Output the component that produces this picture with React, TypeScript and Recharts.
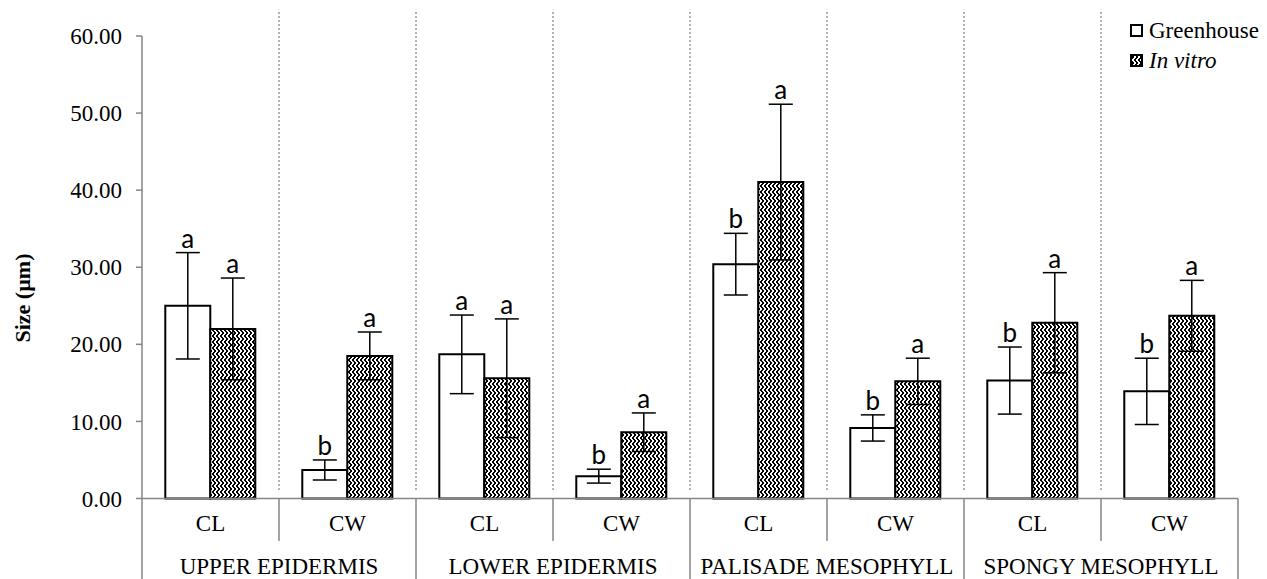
import React from 'react';
import {
  BarChart,
  Bar,
  XAxis,
  YAxis,
  ErrorBar,
  LabelList,
  Legend,
  ReferenceLine,
} from 'recharts';

// leaf anatomy: cell length (CL) / cell width (CW) per tissue
const categories = ['CL', 'CW', 'CL', 'CW', 'CL', 'CW', 'CL', 'CW'];
const groups = ['UPPER EPIDERMIS', 'LOWER EPIDERMIS', 'PALISADE MESOPHYLL', 'SPONGY MESOPHYLL'];

const greenhouse = [25.0, 3.7, 18.7, 2.9, 30.4, 9.15, 15.3, 13.9];
const greenhouseErr = [6.9, 1.3, 5.1, 0.9, 4.0, 1.7, 4.35, 4.3];
const greenhouseLetters = ['a', 'b', 'a', 'b', 'b', 'b', 'b', 'b'];

const inVitro = [22.0, 18.5, 15.6, 8.6, 41.05, 15.2, 22.8, 23.7];
const inVitroErr = [6.6, 3.1, 7.7, 2.5, 10.1, 3.0, 6.5, 4.6];
const inVitroLetters = ['a', 'a', 'a', 'a', 'a', 'a', 'a', 'a'];

const yTicks = [0, 10, 20, 30, 40, 50, 60];

const data = categories.map((c, i) => ({
  key: `${groups[Math.floor(i / 2)]}|${c}`,
  cat: c,
  group: groups[Math.floor(i / 2)],
  greenhouse: greenhouse[i],
  ghErr: greenhouseErr[i],
  inVitro: inVitro[i],
  ivErr: inVitroErr[i],
}));

const keys = data.map((d) => d.key);

const SERIF = 'Liberation Serif';
const SANS = 'Lato';
const AXIS_GREY = '#868686';

function letterLabel(values: number[], errs: number[], letters: string[]) {
  return (props: any) => {
    const { x, y, width, height, index } = props;
    const errPx = (errs[index] * Number(height)) / values[index];
    return (
      <text
        x={Number(x) + Number(width) / 2}
        y={Number(y) - errPx - 5}
        textAnchor="middle"
        style={{ fontFamily: SANS, fontSize: 26 }}
        fill="#000"
      >
        {letters[index]}
      </text>
    );
  };
}

function SerifTick(props: any) {
  const { x, y, payload, index, formatter } = props;
  return (
    <text
      x={Number(x)}
      y={Number(y)}
      dy={props.dy ?? '0.355em'}
      textAnchor={props.textAnchor}
      style={{ fontFamily: SERIF, fontSize: 23 }}
      fill="#000"
    >
      {formatter ? formatter(payload.value, index) : payload.value}
    </text>
  );
}

// group label sits on the boundary between the CL and CW bands
function GroupTick(props: any) {
  const { x, y, payload, index } = props;
  if (index % 2 === 0) return null;
  const half = payload && payload.offset ? payload.offset : 68.5;
  return (
    <text
      x={Number(x) - half}
      y={Number(y)}
      dy="0.71em"
      textAnchor="middle"
      style={{ fontFamily: SERIF, fontSize: 23 }}
      fill="#000"
    >
      {data[index].group}
    </text>
  );
}

function LegendBox() {
  const row: React.CSSProperties = {
    display: 'flex',
    alignItems: 'center',
    height: 30,
    fontFamily: SERIF,
    fontSize: 23,
    color: '#000',
  };
  return (
    <div>
      <div style={row}>
        <svg width={19} height={14}>
          <rect x={1} y={1} width={11} height={11} fill="#fff" stroke="#000" strokeWidth={2} />
        </svg>
        <span style={{ fontFamily: SERIF }}>Greenhouse</span>
      </div>
      <div style={row}>
        <svg width={19} height={14}>
          <rect x={1} y={1} width={11} height={11} fill="url(#zigzag)" stroke="#000" strokeWidth={2} />
        </svg>
        <span style={{ fontFamily: SERIF, fontStyle: 'italic' }}>In vitro</span>
      </div>
    </div>
  );
}

// 4x6 tile: vertical zigzag columns
const zigzagCols = [
  [0, 5],
  [0, 1, 4, 5],
  [1, 2, 3, 4],
  [2, 3],
];

export default function App() {
  return (
    <div style={{ width: 1267, height: 579, background: '#fff' }}>
      <style>{'body{margin:0;background:#fff}'}</style>
      <BarChart
        width={1267}
        height={579}
        data={data}
        margin={{ top: 36, right: 29, left: 0, bottom: 0 }}
        barCategoryGap="17%"
        barGap={0}
      >
        <defs>
          <pattern id="zigzag" patternUnits="userSpaceOnUse" width={4} height={6}>
            <rect width={4} height={6} fill="#fff" />
            <g fill="#000" shapeRendering="crispEdges">
              {zigzagCols.map((rows, c) =>
                rows.map((r) => <rect key={`${c}-${r}`} x={c} y={r} width={1} height={1} />)
              )}
            </g>
          </pattern>
        </defs>

        <XAxis
          dataKey="key"
          axisLine={{ stroke: AXIS_GREY, strokeWidth: 1.5 }}
          tickLine={false}
          tickSize={0}
          tickMargin={16}
          height={45}
          interval={0}
          tick={<SerifTick dy="0.71em" textAnchor="middle" formatter={(_v: string, i: number) => categories[i]} />}
        />
        <XAxis
          xAxisId="g"
          dataKey="key"
          axisLine={false}
          tickLine={false}
          tickSize={0}
          tickMargin={14}
          height={35.5}
          interval={0}
          tick={<GroupTick />}
        />
        <YAxis
          width={142}
          domain={[0, 60]}
          ticks={yTicks}
          interval={0}
          axisLine={{ stroke: AXIS_GREY, strokeWidth: 1.5 }}
          tickLine={{ stroke: AXIS_GREY, strokeWidth: 1.5 }}
          tickSize={6}
          tickMargin={14}
          tick={<SerifTick dy="0.355em" textAnchor="end" formatter={(v: number) => v.toFixed(2)} />}
          label={{
            content: () => (
              <text
                transform="translate(30,298) rotate(-90)"
                textAnchor="middle"
                style={{ fontFamily: SERIF, fontSize: 22, fontWeight: 'bold' }}
                fill="#000"
              >
                Size (µm)
              </text>
            ),
          }}
        />

        <Legend
          layout="vertical"
          align="center"
          verticalAlign="middle"
          content={() => <LegendBox />}
          wrapperStyle={{ position: 'absolute', left: 1130, top: 16, width: 137 }}
        />

        {/* dotted separators between every pair of bands */}
        {keys.slice(0, 7).map((k) => (
          <ReferenceLine
            key={`d${k}`}
            position="end"
            segment={[{ x: k, y: 1.1 }, { x: k, y: 63.4 }]}
            ifOverflow="visible"
            stroke="#666"
            strokeWidth={1}
            strokeDasharray="2 2"
          />
        ))}
        {/* short ticks between CL and CW */}
        {keys.filter((_k, i) => i % 2 === 0).map((k) => (
          <ReferenceLine
            key={`i${k}`}
            position="end"
            segment={[{ x: k, y: 0 }, { x: k, y: -5.5 }]}
            ifOverflow="visible"
            stroke={AXIS_GREY}
            strokeWidth={1.5}
          />
        ))}
        {/* long ticks between tissues */}
        <ReferenceLine
          position="start"
          segment={[{ x: keys[0], y: 0 }, { x: keys[0], y: -11 }]}
          ifOverflow="visible"
          stroke={AXIS_GREY}
          strokeWidth={1.5}
        />
        {keys.filter((_k, i) => i % 2 === 1).map((k) => (
          <ReferenceLine
            key={`o${k}`}
            position="end"
            segment={[{ x: k, y: 0 }, { x: k, y: -11 }]}
            ifOverflow="visible"
            stroke={AXIS_GREY}
            strokeWidth={1.5}
          />
        ))}

        <Bar dataKey="greenhouse" fill="#fff" stroke="#000" strokeWidth={2} isAnimationActive={false}>
          <ErrorBar dataKey="ghErr" width={12} stroke="#000" strokeWidth={1.5} />
          <LabelList content={letterLabel(greenhouse, greenhouseErr, greenhouseLetters)} />
        </Bar>
        <Bar dataKey="inVitro" fill="url(#zigzag)" stroke="#000" strokeWidth={2} isAnimationActive={false}>
          <ErrorBar dataKey="ivErr" width={12} stroke="#000" strokeWidth={1.5} />
          <LabelList content={letterLabel(inVitro, inVitroErr, inVitroLetters)} />
        </Bar>
      </BarChart>
    </div>
  );
}
